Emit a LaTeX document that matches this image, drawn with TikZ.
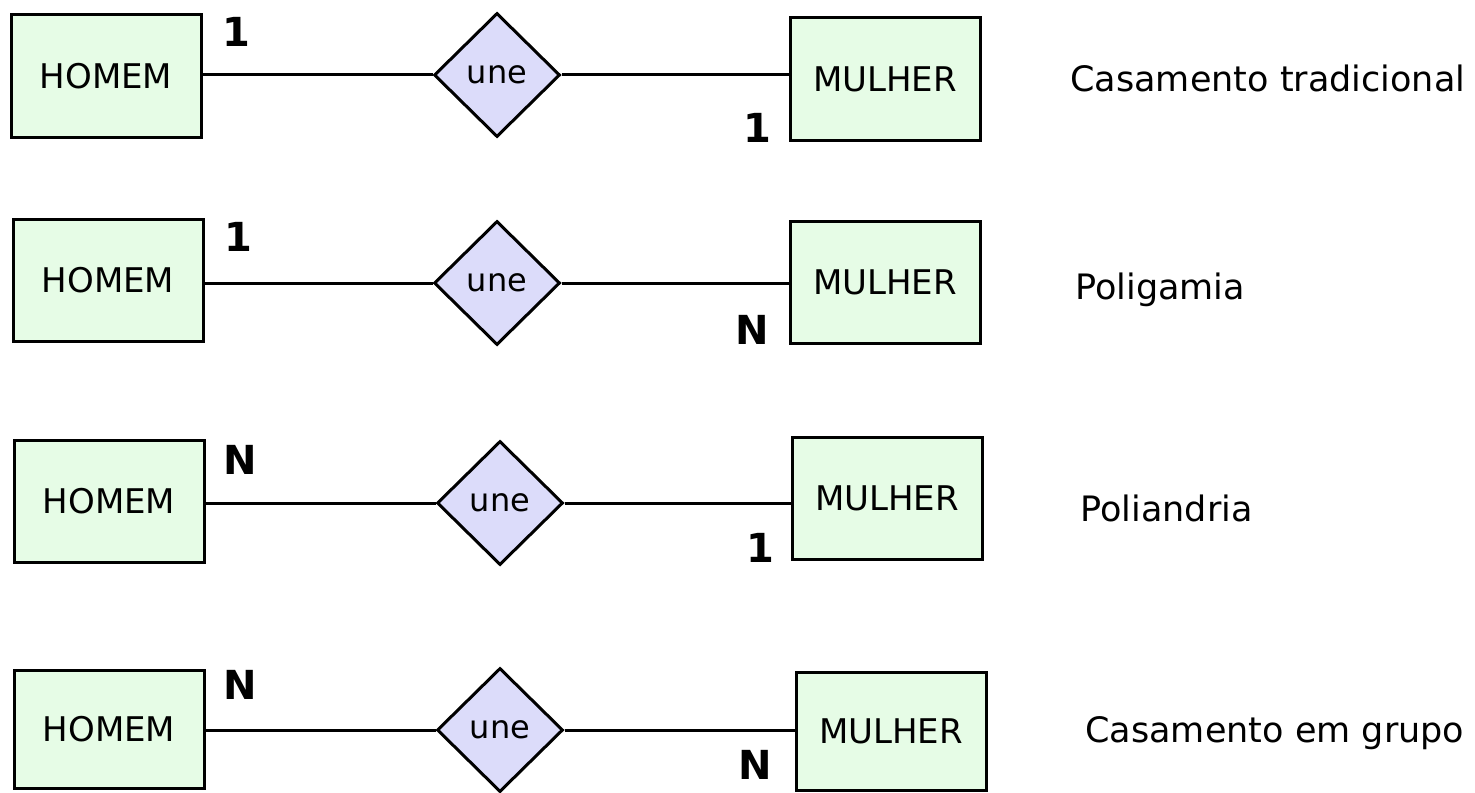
\documentclass[tikz,border=0pt]{standalone}
\usepackage{fontspec}
\setmainfont{DejaVu Sans}
\usetikzlibrary{shapes.geometric}
\definecolor{entfill}{HTML}{E6FCE6}
\definecolor{relfill}{HTML}{DCDCFA}
\tikzset{
  entity/.style={draw=black, line width=1.5pt, fill=entfill, minimum width=95pt,
    minimum height=61pt, inner sep=0pt, font=\fontsize{17}{20}\selectfont},
  relation/.style={draw=black, line width=1.5pt, fill=relfill, diamond, aspect=1,
    minimum width=63pt, minimum height=62pt, inner sep=0pt, font=\fontsize{16}{19}\selectfont},
  link/.style={line width=1.5pt},
  card/.style={font=\bfseries\fontsize{20}{24}\selectfont, inner sep=0pt},
  caption/.style={anchor=west, inner sep=0pt, font=\fontsize{17.5}{21}\selectfont}
}
\begin{document}
\begin{tikzpicture}[x=0.5pt,y=-0.5pt]
\useasboundingbox (0,0) rectangle (1475,792);

% Casamento tradicional: 1:1
\node[entity] (h1) at (106,76) {HOMEM};
\node[relation] (d1) at (497,75) {une};
\node[entity] (m1) at (885,79) {MULHER};
\draw[link] (h1.east |- d1.west) -- (d1.west);
\draw[link] (d1.east) -- (d1.east -| m1.west);
\node[card] (c1a) at (236,32) {1};
\node[card] (c1b) at (757,128) {1};
\node[caption] (t1) at (1070,78) {Casamento tradicional};

% Poligamia: 1:N
\node[entity] (h2) at (108,280) {HOMEM};
\node[relation] (d2) at (497,283) {une};
\node[entity] (m2) at (885,282) {MULHER};
\draw[link] (h2.east |- d2.west) -- (d2.west);
\draw[link] (d2.east) -- (d2.east -| m2.west);
\node[card] (c2a) at (238,237) {1};
\node[card] (c2b) at (752,330) {N};
\node[caption] (t2) at (1075,290) {Poligamia};

% Poliandria: N:1
\node[entity] (h3) at (109,501) {HOMEM};
\node[relation] (d3) at (500,503) {une};
\node[entity] (m3) at (887,498) {MULHER};
\draw[link] (h3.east |- d3.west) -- (d3.west);
\draw[link] (d3.east) -- (d3.east -| m3.west);
\node[card] (c3a) at (240,460) {N};
\node[card] (c3b) at (760,548) {1};
\node[caption] (t3) at (1080,508) {Poliandria};

% Casamento em grupo: N:N
\node[entity, minimum height=59pt] (h4) at (109,729) {HOMEM};
\node[relation] (d4) at (500,730) {une};
\node[entity, minimum height=59pt] (m4) at (891,731) {MULHER};
\draw[link] (h4.east |- d4.west) -- (d4.west);
\draw[link] (d4.east) -- (d4.east -| m4.west);
\node[card] (c4a) at (240,685) {N};
\node[card] (c4b) at (755,765) {N};
\node[caption] (t4) at (1085,733) {Casamento em grupo};
\end{tikzpicture}
\end{document}
